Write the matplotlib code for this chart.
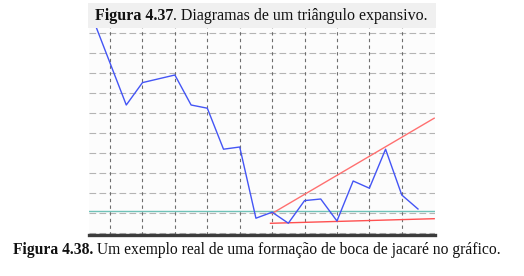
import matplotlib
matplotlib.use("Agg")
import matplotlib.pyplot as plt
from matplotlib.patches import Rectangle

# ---- data ----
price_x = [-1, 1, 2, 4, 5, 6, 7, 8, 9, 10, 11, 12, 13, 14, 15, 16, 17, 18, 19]
price_y = [10.59, 6.4, 7.52, 7.9, 6.4, 6.24, 4.19, 4.3, 0.74, 1.04, 0.49,
           1.62, 1.7, 0.6, 2.6, 2.24, 4.19, 1.9, 1.2]
upper_x = [10, 20]
upper_y = [0.98, 5.74]
lower_x = [9.9, 20]
lower_y = [0.485, 0.715]
support_level = 1.115
grid_x = [0, 2, 4, 6, 8, 10, 12, 14, 16, 18]
grid_y = [0, 1, 2, 3, 4, 5, 6, 7, 8, 9, 10]
title_bold = "Figura 4.37"
title_rest = ". Diagramas de um triângulo expansivo."
caption_bold = "Figura 4.38."
caption_rest = " Um exemplo real de uma formação de boca de jacaré no gráfico."

W, H = 524, 276
fig = plt.figure(figsize=(W / 100, H / 100), dpi=100)
fig.patch.set_facecolor("white")

# light scan shading behind the top caption
fig.patches.append(Rectangle((88 / W, 1 - 28 / H), (436 - 88) / W, 25 / H,
                             transform=fig.transFigure, facecolor="#f0f0f0",
                             edgecolor="none", zorder=0))

ax = fig.add_axes([89 / W, 1 - 235 / H, (435 - 89) / W, (235 - 28) / H])
ax.set_facecolor("#fcfcfc")
ax.set_xlim(-1.3, 20.05)
ax.set_ylim(-0.1, 10.25)

for gy in grid_y:
    ax.axhline(gy, color="#b4b4b4", lw=0.8, ls=(0, (6, 3)), zorder=1)
for gx in grid_x:
    ax.axvline(gx, color="#6e6e6e", lw=0.8, ls=(0, (3, 3)), zorder=1)

ax.axhline(support_level, color="#6fc2b8", lw=1.0, zorder=2)
ax.plot(upper_x, upper_y, color="#ff7070", lw=1.0, zorder=3)
ax.plot(lower_x, lower_y, color="#ff5050", lw=1.0, zorder=3)
ax.plot(price_x, price_y, color="#4455f5", lw=1.0, zorder=4)

ax.set_xticks([])
ax.set_yticks([])
for s in ("top", "left", "right"):
    ax.spines[s].set_visible(False)
ax.spines["bottom"].set_color("#3c3c3c")
ax.spines["bottom"].set_linewidth(2.4)

renderer = fig.canvas.get_renderer()
FONT = "Liberation Serif"


def mixed_text(bold, rest, x_left, baseline, size):
    t1 = fig.text(x_left / W, (H - baseline) / H, bold, fontsize=size,
                  fontweight="bold", family=FONT, va="baseline", ha="left",
                  color="#111111")
    w1 = t1.get_window_extent(renderer).width
    fig.text((x_left + w1) / W, (H - baseline) / H, rest, fontsize=size,
             family=FONT, va="baseline", ha="left", color="#111111")


mixed_text(title_bold, title_rest, 95, 20, 11.5)
mixed_text(caption_bold, caption_rest, 13, 254, 11.25)

fig.savefig("out.png", dpi=100)
